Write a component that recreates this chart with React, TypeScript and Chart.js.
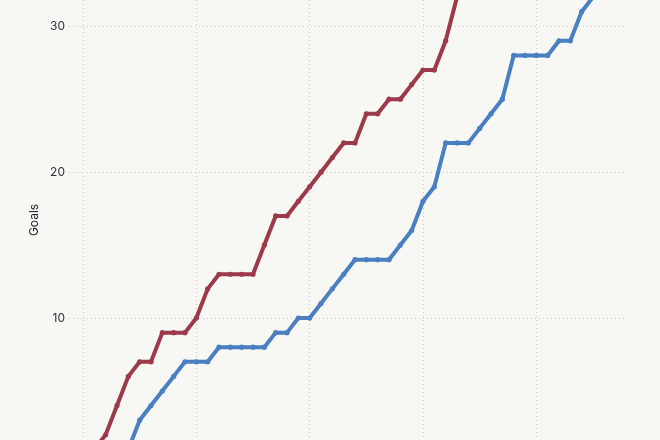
import React, { useEffect, useRef } from "react";
import { Chart, registerables } from "chart.js";

Chart.register(...registerables);

const rounds = [
  "0", "1", "2", "3", "4", "5", "6", "7", "8", "9",
  "10", "11", "12", "13", "14", "15", "16", "17", "18", "19",
  "20", "21", "22", "23", "24", "25", "26", "27", "28", "29",
  "30", "31", "32", "33", "34", "35", "36", "37", "38", "39",
  "40", "41", "42", "43", "44", "45", "46", "47", "48",
];

const redGoals: (number | null)[] = [
  null, 1, 2, 4, 6, 7, 7, 9, 9, 9,
  10, 12, 13, 13, 13, 13, 15, 17, 17, 18,
  19, 20, 21, 22, 22, 24, 24, 25, 25, 26,
  27, 27, 29, 32,
];

const blueGoals: (number | null)[] = [
  null, null, null, null, 1, 3, 4, 5, 6, 7,
  7, 7, 8, 8, 8, 8, 8, 9, 9, 10,
  10, 11, 12, 13, 14, 14, 14, 14, 15, 16,
  18, 19, 22, 22, 22, 23, 24, 25, 28, 28,
  28, 28, 29, 29, 31, 32,
];

const yTicks = [10, 20, 30];

const RED = "#9c3a4b";
const BLUE = "#4a7fc2";
const GRID = "#c9c9c4";

export default function App() {
  const ref = useRef<HTMLCanvasElement | null>(null);

  useEffect(() => {
    if (!ref.current) return;
    const chart = new Chart(ref.current, {
      type: "line",
      data: {
        labels: rounds,
        datasets: [
          {
            label: "Red",
            data: redGoals,
            borderColor: RED,
            backgroundColor: RED,
            borderWidth: 4,
            pointRadius: 2.6,
            pointBorderWidth: 0,
            pointBackgroundColor: RED,
            borderJoinStyle: "round",
            borderCapStyle: "round",
            tension: 0,
          },
          {
            label: "Blue",
            data: blueGoals,
            borderColor: BLUE,
            backgroundColor: BLUE,
            borderWidth: 4,
            pointRadius: 2.6,
            pointBorderWidth: 0,
            pointBackgroundColor: BLUE,
            borderJoinStyle: "round",
            borderCapStyle: "round",
            tension: 0,
          },
        ],
      },
      options: {
        responsive: false,
        animation: false,
        maintainAspectRatio: false,
        layout: { padding: { left: 0, top: 0, bottom: 0, right: 33 }, autoPadding: false },
        plugins: {
          legend: { display: false },
          tooltip: { enabled: false },
        },
        scales: {
          x: {
            type: "category",
            offset: false,
            ticks: { display: false },
            border: { display: false, dash: [1, 3] },
            grid: {
              drawTicks: false,
              color: (ctx: any) => (ctx.index % 10 === 0 ? GRID : "rgba(0,0,0,0)"),
              lineWidth: 1,
            },
            afterFit: (scale: any) => {
              scale.height = 0;
              scale.paddingLeft = 0;
              scale.paddingRight = 0;
            },
          },
          y: {
            type: "linear",
            min: 1.64,
            max: 31.8,
            afterBuildTicks: (scale: any) => {
              scale.ticks = yTicks.map((v) => ({ value: v }));
            },
            ticks: {
              color: "#333",
              font: { family: "Inter", size: 12 },
              padding: 4,
              includeBounds: false,
            },
            border: { display: false, dash: [1, 3] },
            grid: {
              color: GRID,
              lineWidth: 1,
              tickLength: 14,
              tickBorderDash: [1, 3],
              tickColor: GRID,
            },
            title: {
              display: true,
              text: "Goals",
              color: "#222",
              font: { family: "Inter", size: 12 },
              padding: { top: 27, bottom: 0 },
            },
            afterFit: (scale: any) => {
              scale.width = 83;
              scale.paddingTop = 0;
              scale.paddingBottom = 0;
            },
          },
        },
      },
    });
    return () => chart.destroy();
  }, []);

  return (
    <div style={{ width: 660, height: 440, background: "#f7f7f3", position: "fixed", left: 0, top: 0 }}>
      <canvas ref={ref} width={660} height={440} style={{ width: 660, height: 440, display: "block" }} />
    </div>
  );
}
